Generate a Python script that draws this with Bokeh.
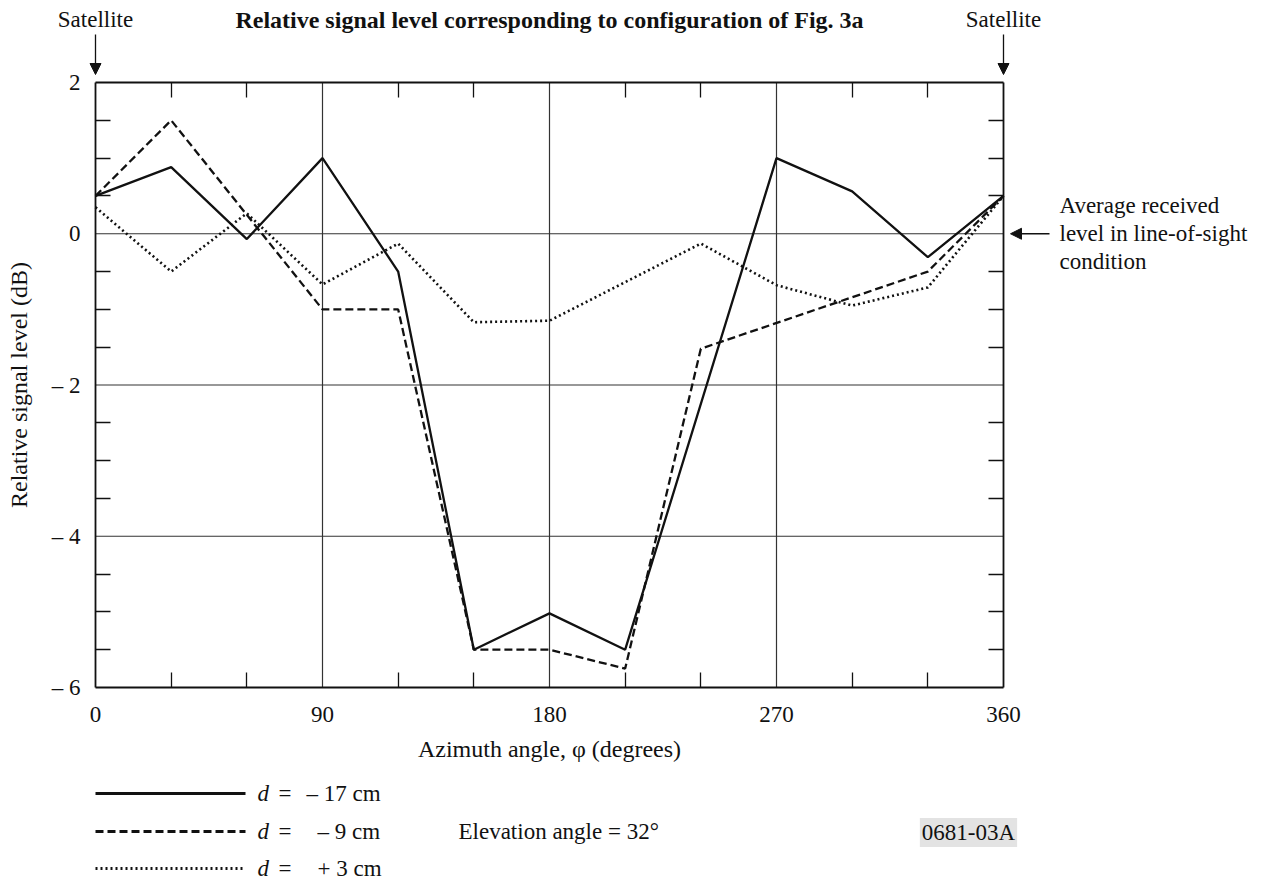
from bokeh.plotting import figure
from bokeh.models import (FixedTicker, LinearAxis, Label, Arrow, NormalHead, Range1d)
from bokeh.embed import file_html
from bokeh.resources import INLINE

# ---------------- data ----------------
azimuth_solid = [0, 30, 60, 90, 120, 150, 180, 210, 270, 300, 330, 360]
level_solid = [0.5, 0.88, -0.07, 1.0, -0.5, -5.5, -5.02, -5.5, 1.0, 0.56, -0.31, 0.5]

azimuth_dashed = [0, 30, 90, 120, 150, 180, 210, 240, 330, 360]
level_dashed = [0.5, 1.5, -1.0, -1.0, -5.5, -5.5, -5.75, -1.52, -0.5, 0.5]

azimuth_dotted = [0, 30, 60, 90, 120, 150, 180, 240, 270, 300, 330, 360]
level_dotted = [0.35, -0.5, 0.27, -0.67, -0.13, -1.17, -1.15, -0.13, -0.68, -0.95, -0.71, 0.5]

x_major = [0, 90, 180, 270, 360]
x_minor = [30, 60, 120, 150, 210, 240, 300, 330]
x_grid = [90, 180, 270]
y_major = [-6, -4, -2, 0, 2]
y_minor = [-5.5, -5, -4.5, -3.5, -3, -2.5, -1.5, -1, -0.5, 0.5, 1, 1.5]
y_grid = [-4, -2, 0]
y_labels = {2: "2", 0: "0", -2: "\u2013 2", -4: "\u2013 4", -6: "\u2013 6"}
legend_labels = ["\u2013 17 cm", "\u2013 9 cm", "+ 3 cm"]

X_MIN, X_MAX = 0, 360
Y_MIN, Y_MAX = -6, 2

FONT = "Liberation Serif"
FS = "23px"
INK = "#111111"

# plot box geometry in pixels (the frame covers the whole canvas)
FL, FR, FT, FB = 95, 1003, 82, 687
W, H = 1269, 884


def dx(px):
    return X_MIN + (px - FL) / (FR - FL) * (X_MAX - X_MIN)


def dy(py):
    return Y_MAX - (py - FT) / (FB - FT) * (Y_MAX - Y_MIN)


p = figure(width=W, height=H, x_range=Range1d(dx(0), dx(W)), y_range=Range1d(dy(H), dy(0)),
           output_backend="svg", toolbar_location=None,
           x_axis_type=None, y_axis_type=None,
           min_border=0, min_border_left=0, min_border_right=0,
           min_border_top=0, min_border_bottom=0)
p.outline_line_color = None
p.background_fill_color = "white"
p.border_fill_color = "white"
p.xgrid.visible = False
p.ygrid.visible = False


def style_axis(ax, labels=True):
    ax.major_tick_in = 0
    ax.major_tick_out = 0
    ax.minor_tick_in = 15
    ax.minor_tick_out = 0
    ax.minor_tick_line_color = INK
    ax.minor_tick_line_width = 1.3
    ax.axis_line_color = INK
    ax.axis_line_width = 1.8
    ax.major_label_text_font = FONT
    ax.major_label_text_font_size = FS
    ax.major_label_text_color = INK if labels else None
    ax.axis_label_text_font = FONT
    ax.axis_label_text_font_size = "24px"
    ax.axis_label_text_font_style = "normal"
    ax.axis_label_text_color = INK


xb = LinearAxis(ticker=FixedTicker(ticks=x_major, minor_ticks=x_minor),
                axis_label="Azimuth angle, \u03c6 (degrees)",
                fixed_location=Y_MIN, bounds=(X_MIN, X_MAX))
style_axis(xb)
xb.major_label_standoff = 19
xb.axis_label_standoff = 11
p.add_layout(xb, "below")

xa = LinearAxis(ticker=FixedTicker(ticks=x_major, minor_ticks=x_minor),
                fixed_location=Y_MAX, bounds=(X_MIN, X_MAX))
style_axis(xa, labels=False)
p.add_layout(xa, "above")

yl = LinearAxis(ticker=FixedTicker(ticks=y_major, minor_ticks=y_minor),
                axis_label="Relative signal level (dB)",
                major_label_overrides=y_labels,
                fixed_location=X_MIN, bounds=(Y_MIN, Y_MAX))
style_axis(yl)
yl.major_label_standoff = 15
yl.axis_label_standoff = 17
p.add_layout(yl, "left")

yr = LinearAxis(ticker=FixedTicker(ticks=y_major, minor_ticks=y_minor),
                fixed_location=X_MAX, bounds=(Y_MIN, Y_MAX))
style_axis(yr, labels=False)
p.add_layout(yr, "right")

# grid lines only inside the plot box
p.segment(x0=x_grid, y0=[Y_MIN] * len(x_grid), x1=x_grid, y1=[Y_MAX] * len(x_grid),
          line_color="#333333", line_width=1.2)
p.segment(x0=[X_MIN] * len(y_grid), y0=y_grid, x1=[X_MAX] * len(y_grid), y1=y_grid,
          line_color="#333333", line_width=1.2)

# ---------------- series ----------------
styles = [
    dict(line_width=2.3, line_dash="solid"),
    dict(line_width=2.3, line_dash="8 4"),
    dict(line_width=2.6, line_dash="2 3"),
]
p.line(azimuth_solid, level_solid, line_color=INK, **styles[0])
p.line(azimuth_dashed, level_dashed, line_color=INK, **styles[1])
p.line(azimuth_dotted, level_dotted, line_color=INK, **styles[2])


# ---------------- annotations ----------------
def label(text, px, py, align="left", bold=False, italic=False, size=FS, bg=None):
    style = "bold" if bold else ("italic" if italic else "normal")
    lab = Label(x=dx(px), y=dy(py), text=text, text_font=FONT, text_font_size=size,
                text_font_style=style, text_align=align, text_baseline="middle",
                text_color=INK)
    if bg is not None:
        lab.background_fill_color = bg
        lab.padding = 2
    p.add_layout(lab)


label("Satellite", FL, 19, align="center")
label("Satellite", FR, 19, align="center")
label("Relative signal level corresponding to configuration of Fig. 3a", 549, 19,
      align="center", bold=True, size="24px")

for xpx in (FL, FR):
    p.add_layout(Arrow(end=NormalHead(size=11, fill_color=INK, line_color=INK),
                       x_start=dx(xpx), y_start=dy(34), x_end=dx(xpx), y_end=dy(74),
                       line_color=INK, line_width=1.3))

p.add_layout(Arrow(end=NormalHead(size=11, fill_color=INK, line_color=INK),
                   x_start=dx(1049), y_start=0, x_end=dx(1010), y_end=0,
                   line_color=INK, line_width=1.3))
label("Average received", 1059, 205)
label("level in line-of-sight", 1059, 233)
label("condition", 1059, 261)

# legend
rows = [793, 831, 868]
value_left = [306, 317, 317]
for (st, txt, ry, vx) in zip(styles, legend_labels, rows, value_left):
    p.line([dx(95), dx(245)], [dy(ry), dy(ry)], line_color=INK,
           line_width=st["line_width"] + 0.6, line_dash=st["line_dash"])
    label("d", 257, ry, italic=True)
    label("=", 278, ry)
    label(txt, vx, ry)

label("Elevation angle = 32\u00b0", 458, 831)
label("0681-03A", 968, 832, align="center", bg="#e3e3e3")

open("out.html", "w").write(file_html(p, INLINE))
